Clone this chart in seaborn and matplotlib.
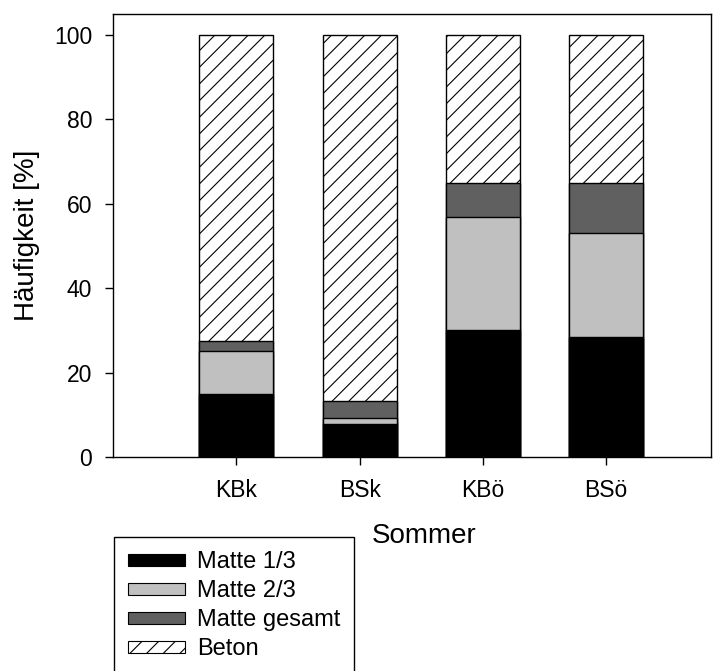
import numpy as np
import matplotlib
matplotlib.use('Agg')
import matplotlib.pyplot as plt
from matplotlib.patches import Patch
import seaborn as sns

# values (percent per layer)
categories = ['KBk', 'BSk', 'KBö', 'BSö']
matte_13 = [15.0, 7.8, 30.0, 28.4]
matte_23 = [10.2, 1.5, 27.0, 24.6]
matte_gesamt = [2.4, 4.0, 8.0, 12.0]
beton = [100 - a - b - c for a, b, c in zip(matte_13, matte_23, matte_gesamt)]

labels = ['Matte 1/3', 'Matte 2/3', 'Matte gesamt', 'Beton']
colors = ['#000000', '#c0c0c0', '#606060', '#ffffff']

sns.set_style('ticks', {'axes.edgecolor': 'black', 'xtick.color': 'black', 'ytick.color': 'black',
                        'text.color': 'black', 'axes.labelcolor': 'black'})
plt.rcParams['font.family'] = ['Liberation Sans', 'DejaVu Sans']
plt.rcParams['hatch.linewidth'] = 0.8

fig = plt.figure(figsize=(7.19, 6.71), dpi=100)
ax = fig.add_axes([113/719, 1 - 457/671, (711 - 113)/719, (457 - 14)/671])

# stacked bars: draw cumulative tops, tallest first
layers = [matte_13, matte_23, matte_gesamt, beton]
cum = np.cumsum(np.array(layers), axis=0)
for i in range(len(layers) - 1, -1, -1):
    sns.barplot(x=categories, y=cum[i], color=colors[i], saturation=1, width=0.6,
                edgecolor='black', linewidth=1, hatch='//' if labels[i] == 'Beton' else None,
                ax=ax)

ax.set_xlim(-1, 3.85)
ax.set_ylim(0, 105)
ax.set_yticks([0, 20, 40, 60, 80, 100])
ax.tick_params(axis='both', labelsize=16.5, length=6, width=1, colors='black')
ax.tick_params(axis='x', pad=10)
ax.tick_params(axis='y', pad=9)
for s in ax.spines.values():
    s.set_linewidth(1)
    s.set_color('black')

ax.set_ylabel('Häufigkeit [%]', fontsize=20)
ax.yaxis.set_label_coords(-0.122, 0.5)
ax.set_xlabel('Sommer', fontsize=20)
ax.xaxis.set_label_coords(0.52, -0.148)

handles = [Patch(facecolor=c, edgecolor='black', linewidth=0.8, hatch='//' if l == 'Beton' else None)
           for c, l in zip(colors, labels)]
leg = fig.legend(handles, labels, loc='upper left', bbox_to_anchor=(114/719, 1 - 537/671),
                 fontsize=17, frameon=True, fancybox=False, framealpha=1, edgecolor='black',
                 handlelength=2.4, handleheight=0.4, handletextpad=0.5, labelspacing=0.3,
                 borderpad=0.6, borderaxespad=0)
leg.get_frame().set_linewidth(1)

fig.savefig('out.png', dpi=100)
